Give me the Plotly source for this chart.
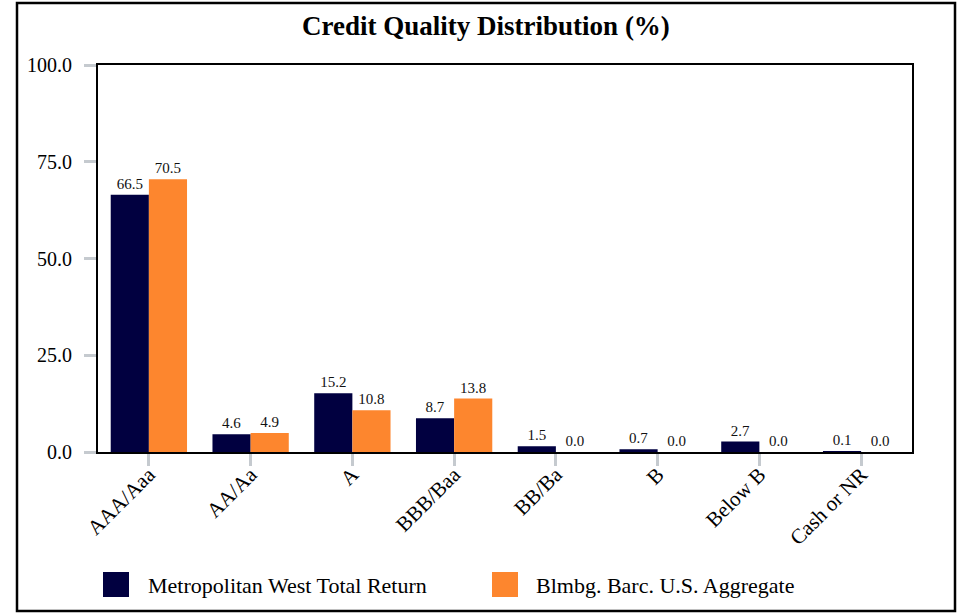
import plotly.graph_objects as go

categories = ["AAA/Aaa", "AA/Aa", "A", "BBB/Baa", "BB/Ba", "B", "Below B", "Cash or NR"]
fund_name = "Metropolitan West Total Return"
bench_name = "Blmbg. Barc. U.S. Aggregate"
fund_values = [66.5, 4.6, 15.2, 8.7, 1.5, 0.7, 2.7, 0.1]
bench_values = [70.5, 4.9, 10.8, 13.8, 0.0, 0.0, 0.0, 0.0]
y_ticks = [0, 25, 50, 75, 100]

NAVY = "#010040"
ORANGE = "#FD862E"
FONT = "Liberation Serif"

# plot area in pixels (for placing the frame and hand-drawn legend)
W, H = 961, 613
L, R, T, B = 98, 49, 65, 161
PW, PH = W - L - R, H - T - B


def px(x):
    return (x - L) / PW


def py(y):
    return (H - B - y) / PH


fig = go.Figure()

for name, vals, color in [(fund_name, fund_values, NAVY), (bench_name, bench_values, ORANGE)]:
    fig.add_trace(
        go.Bar(
            x=categories,
            y=vals,
            name=name,
            marker=dict(color=color, line=dict(width=0)),
            text=[f"{v:.1f}" for v in vals],
            textposition="outside",
            textfont=dict(family=FONT, size=15, color="#111111"),
            cliponaxis=False,
            showlegend=False,
        )
    )

# hand-drawn legend with large squares
shapes = [
    dict(type="rect", xref="paper", yref="paper",
         x0=px(17), x1=px(955), y0=py(611), y1=py(3),
         line=dict(color="black", width=2.5), fillcolor="rgba(0,0,0,0)", layer="below"),
    dict(type="rect", xref="paper", yref="paper",
         x0=px(103), x1=px(129), y0=py(597), y1=py(572),
         line=dict(width=0), fillcolor=NAVY),
    dict(type="rect", xref="paper", yref="paper",
         x0=px(492), x1=px(518), y0=py(597), y1=py(572),
         line=dict(width=0), fillcolor=ORANGE),
]
annotations = [
    dict(text=fund_name, xref="paper", yref="paper", x=px(146), y=py(585),
         xanchor="left", yanchor="middle", showarrow=False,
         font=dict(family=FONT, size=22, color="black")),
    dict(text=bench_name, xref="paper", yref="paper", x=px(534), y=py(585),
         xanchor="left", yanchor="middle", showarrow=False,
         font=dict(family=FONT, size=22, color="black")),
]

fig.update_layout(
    width=W,
    height=H,
    margin=dict(l=L, r=R, t=T, b=B),
    paper_bgcolor="white",
    plot_bgcolor="white",
    barmode="group",
    bargap=0.25,
    bargroupgap=0,
    title=dict(
        text="<b>Credit Quality Distribution (%)</b>",
        x=px(486), xref="paper", xanchor="center",
        y=(H - 26) / H, yanchor="middle",
        font=dict(family=FONT, size=27, color="black"),
    ),
    font=dict(family=FONT, color="black"),
    shapes=shapes,
    annotations=annotations,
)

fig.update_xaxes(
    showline=True, linecolor="black", linewidth=2, mirror=True,
    ticks="outside", ticklen=12, tickwidth=3, tickcolor="#C5CACF",
    tickangle=-45, tickfont=dict(family=FONT, size=21, color="black"),
    ticklabelstandoff=-12,
    showgrid=False,
)
fig.update_yaxes(
    range=[0, 100], tickvals=y_ticks, tickformat=".1f",
    showline=True, linecolor="black", linewidth=2, mirror=True,
    ticks="outside", ticklen=12, tickwidth=3, tickcolor="#C5CACF",
    tickfont=dict(family=FONT, size=20, color="black"),
    ticklabelstandoff=8,
    showgrid=False, zeroline=False,
)

fig.write_html(
    "out.html",
    config={"displayModeBar": False},
    post_script="document.body.style.margin='0';",
)
